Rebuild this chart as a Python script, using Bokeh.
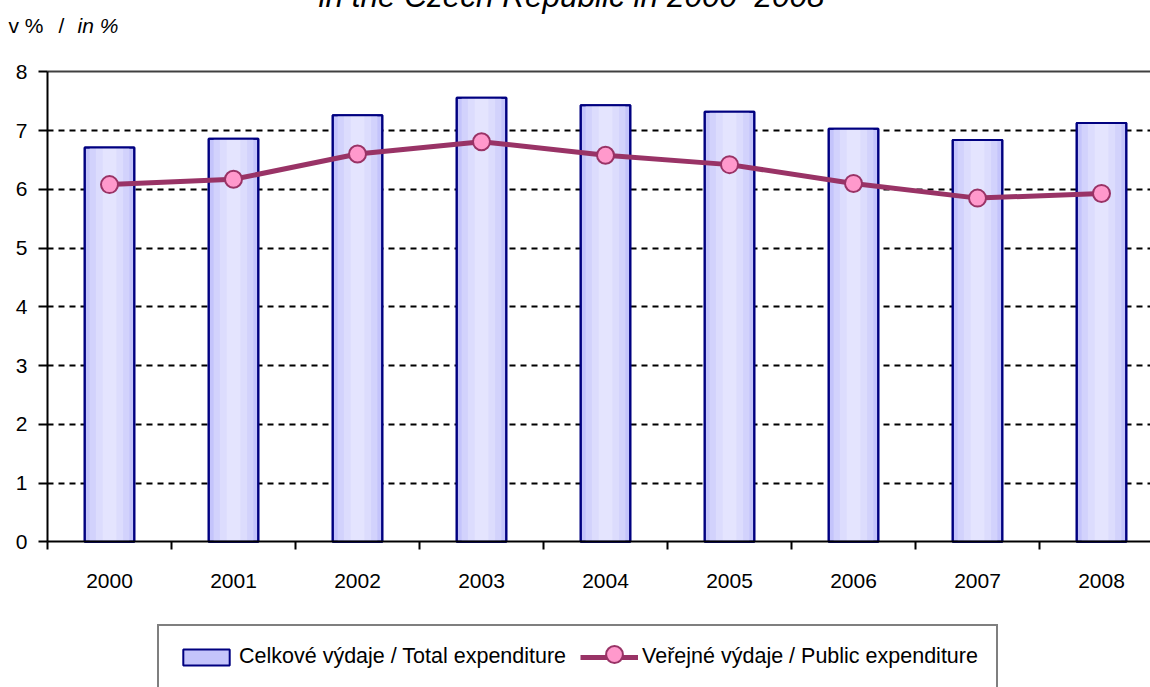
from bokeh.plotting import figure
from bokeh.models import Range1d, FixedTicker, Legend, LegendItem, Label, Grid
from bokeh.embed import file_html
from bokeh.resources import INLINE

# ---- data ----
years = [2000, 2001, 2002, 2003, 2004, 2005, 2006, 2007, 2008]
total_exp = [6.71, 6.86, 7.26, 7.56, 7.43, 7.32, 7.03, 6.84, 7.13]
public_exp = [6.08, 6.17, 6.60, 6.81, 6.58, 6.42, 6.10, 5.85, 5.93]
y_ticks = [0, 1, 2, 3, 4, 5, 6, 7, 8]
title_text = "in the Czech Republic in 2000\u20132008"
unit_cz = "v %"
unit_sep = "/"
unit_en = "in %"
label_total = "Celkov\u00e9 v\u00fddaje / Total expenditure"
label_public = "Ve\u0159ejn\u00e9 v\u00fddaje / Public expenditure"

FONT = "Liberation Sans"
FS = "21px"

# ---- geometry (pixels of the page) ----
W, H, TOP = 1150, 699, -12          # canvas spans page y -12 .. 687
AX_X = 47                           # page x of the value axis
CAT_W = 124                         # pixels per category
Y0_PX, Y_UNIT = 541.3, 58.75        # page y of value 0, pixels per unit

x0 = years[0] - 0.5
x_start = x0 - AX_X / CAT_W
x_end = x0 + (W - AX_X) / CAT_W
y_start = (Y0_PX - (TOP + H)) / Y_UNIT
y_end = (Y0_PX - TOP) / Y_UNIT
boundaries = [y - 0.5 for y in years] + [years[-1] + 0.5]

p = figure(width=W, height=H,
           x_range=Range1d(x_start, x_end), y_range=Range1d(y_start, y_end),
           output_backend="svg", toolbar_location=None,
           min_border=0, min_border_left=0, min_border_right=0,
           min_border_top=0, min_border_bottom=0,
           margin=(TOP, 0, -8, 0))
p.title = None
p.outline_line_color = None
p.background_fill_color = "white"
p.border_fill_color = "white"

# grid
p.xgrid.visible = False
p.ygrid.ticker = FixedTicker(ticks=y_ticks[1:-1])
p.ygrid.grid_line_color = "black"
p.ygrid.grid_line_width = 2
p.ygrid.grid_line_dash = "6 5"
p.ygrid.cross_bounds = (x0, x_end)
p.add_layout(Grid(dimension=1, ticker=FixedTicker(ticks=[y_ticks[-1]]),
                  cross_bounds=(x0, x_end),
                  grid_line_color="#404040", grid_line_width=2))

# bars with a soft horizontal gradient
bar_main = p.vbar(x=years, top=total_exp, bottom=0, width=0.40,
                  fill_color="#c4c4fb", line_color="#000080", line_width=2)
p.vbar(x=years, top=total_exp, bottom=0, width=0.32,
       fill_color="#d2d2fc", line_color=None)
p.vbar(x=years, top=total_exp, bottom=0, width=0.22,
       fill_color="#dcdcfd", line_color=None)
p.vbar(x=years, top=total_exp, bottom=0, width=0.11,
       fill_color="#e4e4fe", line_color=None)
p.vbar(x=years, top=total_exp, bottom=0, width=0.40,
       fill_color=None, line_color="#000080", line_width=2)

# line
line_r = p.line(years, public_exp, line_color="#993366", line_width=5)
circ_r = p.scatter(years, public_exp, marker="circle", size=17,
                   fill_color="#ff99cc", line_color="#993366", line_width=2)

# axes (fixed inside the frame)
xa = p.xaxis[0]
xa.fixed_location = y_ticks[0]
xa.bounds = (x0, boundaries[-1])
xa.ticker = FixedTicker(ticks=years, minor_ticks=boundaries)
xa.major_label_overrides = {y: str(y) for y in years}
xa.axis_line_color = "black"
xa.axis_line_width = 2
xa.major_tick_out = 0
xa.major_tick_in = 0
xa.major_tick_line_color = None
xa.minor_tick_out = 8
xa.minor_tick_in = 0
xa.minor_tick_line_color = "black"
xa.minor_tick_line_width = 2
xa.major_label_standoff = 24
xa.major_label_text_font = FONT
xa.major_label_text_font_size = FS
xa.major_label_text_color = "black"

ya = p.yaxis[0]
ya.fixed_location = x0
ya.ticker = FixedTicker(ticks=y_ticks)
ya.bounds = (y_ticks[0], y_ticks[-1])
ya.axis_line_color = "black"
ya.axis_line_width = 2
ya.major_tick_out = 9
ya.major_tick_in = 0
ya.major_tick_line_color = "black"
ya.major_tick_line_width = 2
ya.minor_tick_line_color = None
ya.major_label_standoff = 11
ya.major_label_text_font = FONT
ya.major_label_text_font_size = FS
ya.major_label_text_color = "black"

# texts (frame covers the whole canvas; screen y measured from page y 687)
def add_text(txt, px, y_px, size, style="normal", align="left"):
    p.add_layout(Label(x=px, y=(TOP + H) - y_px, x_units="screen", y_units="screen",
                       text=txt, text_align=align, text_baseline="alphabetic",
                       text_font=FONT, text_font_size=size, text_font_style=style,
                       text_color="black"))

add_text(title_text, 571, -5, "31.5px", "italic", "center")
add_text(unit_cz, 8, 25, FS)
add_text(unit_sep, 58, 25, FS)
add_text(unit_en, 77, 25, FS, "italic")

legend = Legend(items=[LegendItem(label=label_total, renderers=[bar_main]),
                       LegendItem(label=label_public, renderers=[line_r])],
                location=(157, -2), orientation="horizontal",
                border_line_color="black", border_line_width=2,
                background_fill_color="white", background_fill_alpha=1,
                padding=18, spacing=14, label_standoff=4,
                glyph_width=58, glyph_height=20, label_height=20,
                label_text_font=FONT, label_text_font_size="21.5px",
                label_text_color="black")
p.add_layout(legend, "center")

# marker of the line series drawn large over the legend's line sample
marker_legend = Legend(items=[LegendItem(label=" ", renderers=[circ_r])],
                       location=(593, 12), orientation="horizontal",
                       border_line_color=None, background_fill_alpha=0,
                       padding=0, spacing=0, label_standoff=0, label_width=0,
                       glyph_width=42, glyph_height=42, label_height=1,
                       label_text_font_size="1px", inactive_fill_alpha=0)
p.add_layout(marker_legend, "center")

open("out.html", "w").write(file_html(p, INLINE))
